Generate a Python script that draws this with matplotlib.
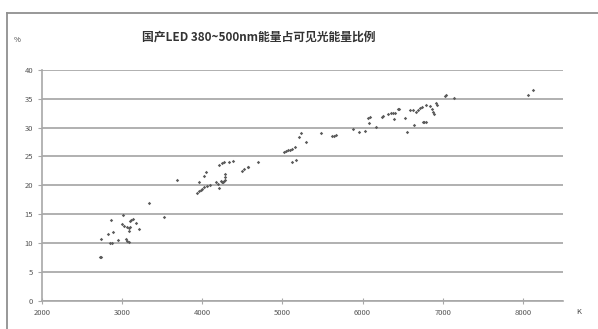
import matplotlib
matplotlib.use("Agg")
import matplotlib.pyplot as plt
from matplotlib.lines import Line2D

plt.rcParams['font.family'] = ['Noto Sans CJK SC', 'DejaVu Sans']

# colour temperature (K) and share of 380-500nm energy (%)
cct = [2723, 2739, 2736, 2819, 2852, 2869, 2860, 2890, 2948, 2993, 3006, 3022, 3047,
       3056, 3064, 3081, 3081, 3089, 3097, 3097, 3113, 3131, 3176, 3206, 3334, 3521,
       3679, 3936, 3961, 3958, 3983, 3999, 4024, 4028, 4053, 4061, 4095, 4170, 4195,
       4207, 4211, 4228, 4241, 4244, 4261, 4269, 4273, 4282, 4290, 4290, 4328, 4385,
       4490, 4527, 4565, 4577, 4690,
       5017, 5042, 5071, 5092, 5126, 5126, 5158, 5176, 5208, 5238, 5292, 5483, 5625,
       5650, 5666, 5882, 5956, 6027, 6073, 6081, 6090, 6165, 6239, 6256, 6318, 6360,
       6380, 6389, 6405, 6443, 6456, 6526, 6555, 6597, 6630, 6646, 6663, 6688, 6717,
       6738, 6755, 6772, 6788, 6796, 6846, 6863, 6879, 6888, 6921, 6934, 7025, 7037,
       7146, 8065, 8126]
ratio = [7.5, 7.6, 10.7, 11.5, 9.9, 10.0, 14.0, 11.9, 10.5, 13.2, 14.8, 13.0, 10.7,
         12.8, 10.3, 10.1, 12.6, 12.1, 12.7, 13.8, 14.0, 14.2, 13.5, 12.4, 16.9, 14.5,
         20.9, 18.7, 19.0, 20.6, 19.2, 19.4, 19.7, 21.6, 22.3, 19.9, 20.1, 20.5, 20.2,
         19.5, 23.6, 20.7, 20.5, 23.8, 20.6, 24.1, 20.8, 20.9, 21.5, 22.0, 24.0, 24.2,
         22.5, 22.8, 23.1, 23.1, 24.1,
         25.7, 26.0, 26.1, 26.1, 26.3, 24.1, 26.7, 24.4, 28.4, 29.0, 27.5, 29.0, 28.5,
         28.6, 28.7, 29.7, 29.2, 29.4, 31.6, 30.8, 31.8, 30.1, 31.9, 32.1, 32.4, 32.5,
         32.5, 31.5, 32.6, 33.3, 33.2, 31.6, 29.3, 33.1, 33.1, 30.5, 32.8, 33.1, 33.4,
         33.6, 31.0, 31.0, 31.0, 33.9, 33.8, 33.3, 32.7, 32.3, 34.2, 33.9, 35.5, 35.7,
         35.2, 35.6, 36.6]

xticks = [2000, 3000, 4000, 5000, 6000, 7000, 8000]
yticks = [0, 5, 10, 15, 20, 25, 30, 35, 40]
title = "国产LED 380~500nm能量占可见光能量比例"

fig = plt.figure(figsize=(5.98, 3.29), dpi=100)
ax = fig.add_axes([0.0702, 0.0866, 0.871, 0.7006])

ax.scatter(cct, ratio, s=3, color="#5a5a5a", marker="D", linewidths=0, zorder=3)

ax.set_xlim(2000, 8500)
ax.set_ylim(0, 40)
ax.set_xticks(xticks)
ax.set_yticks(yticks)
ax.yaxis.grid(True, color="#b0b0b0", linewidth=1.4)
ax.set_axisbelow(True)
for s in ["top", "right"]:
    ax.spines[s].set_visible(False)
for s in ["left", "bottom"]:
    ax.spines[s].set_color("#a8a8a8")
    ax.spines[s].set_linewidth(1.2)
ax.tick_params(axis="both", labelsize=5.5, labelcolor="#555555", color="#a8a8a8",
               length=3, width=0.8)
ax.tick_params(axis="x", direction="inout", length=4, pad=4)

fig.text(0.432, 0.888, title, ha="center", va="center", fontsize=8.5,
         fontweight="bold", color="#333333")
fig.text(0.028, 0.878, "%", ha="center", va="center", fontsize=5.5, color="#444444")
fig.text(0.967, 0.052, "K", ha="center", va="center", fontsize=5.5, color="#444444")

# outer chart border (top and left visible)
fig.add_artist(Line2D([0.012, 1.0], [0.962, 0.962], color="#909090", linewidth=1.3))
fig.add_artist(Line2D([0.012, 0.012], [0.0, 0.962], color="#909090", linewidth=1.3))

plt.savefig("out.png", dpi=100)
